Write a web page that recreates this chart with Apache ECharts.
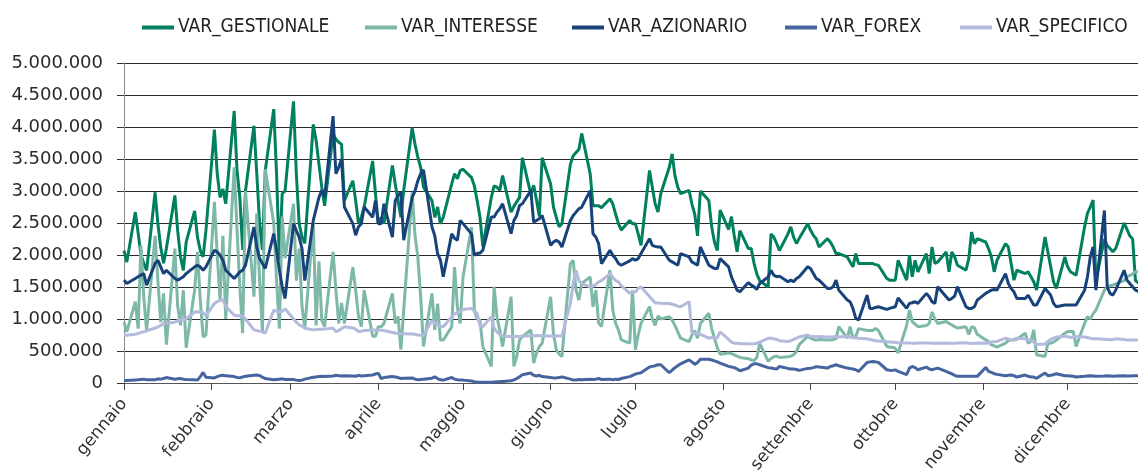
<!DOCTYPE html>
<html>
<head>
<meta charset="utf-8">
<title>VaR</title>
<script src="https://cdn.jsdelivr.net/npm/echarts@6.0.0/dist/echarts.min.js"></script>
<style>
  html, body { margin: 0; padding: 0; background: #fff; }
  #chart { width: 1138px; height: 472px; }
</style>
</head>
<body>
<div id="chart"></div>
<script>
// month names shown on the time axis
const months = ["gennaio", "febbraio", "marzo", "aprile", "maggio", "giugno",
   "luglio", "agosto", "settembre", "ottobre", "novembre", "dicembre"];
const monthLengths = [31, 28, 31, 30, 31, 30, 31, 31, 30, 31, 30, 31];
const seriesNames = ["VAR_GESTIONALE", "VAR_INTERESSE", "VAR_AZIONARIO", "VAR_FOREX", "VAR_SPECIFICO"];
const yTicks = [0, 500000, 1000000, 1500000, 2000000, 2500000, 3000000, 3500000, 4000000, 4500000, 5000000];

// values in thousands, one per trading day, one line per month
const gestionale = [
   2070, 1890, 2670, 2350, 2000, 1870, 1760, 2980, 2490, 2120, 1870, 2100, 2930, 2380, 1970, 1760, 2200, 2690, 2280, 2070, 1970, 2380,
   3960, 3270, 2900, 3030, 2800, 4250, 3320, 2900, 2080, 3000, 4020, 3270, 2490, 2080, 3320, 4280, 3270, 1920, 2960, 3000,
   4400, 3270, 2490, 2280, 2180, 4040, 3790, 3420, 3060, 2770, 3890, 3810, 3760, 3730, 2850, 3160, 2850, 2490, 2590, 2750, 3470, 2960,
   2490, 2590, 2490, 3400, 3110, 2850, 2590, 3010, 3990, 3730, 3530, 3370, 3060, 2850, 2590, 2750, 2490, 2590, 3110, 3270, 3190, 3320,
   3340, 3210, 3080, 2850, 2590, 2130, 2900, 3080, 3060, 3010, 3240, 2670, 2760, 2830, 2900, 3520, 2950, 3090, 2860, 2600, 3520,
   3110, 2750, 2590, 2440, 2490, 3420, 3550, 3600, 3650, 3900, 3270, 2770, 2770, 2770, 2740, 2880, 2800, 2640, 2490, 2390, 2540, 2490,
   2490, 2330, 2150, 3320, 3060, 2800, 2670, 2960, 3370, 3580, 3240, 3060, 2960, 3010, 2800, 2640, 2300, 3000, 2850, 2440, 2200, 2070, 2700,
   2400, 2600, 2300, 2050, 2380, 2100, 2100, 1870, 1700, 1600, 1500, 2330, 2280, 2180, 2070, 2330, 2440, 2280, 2180, 2260, 2490,
   2385, 2307, 2255, 2125, 2255, 2203, 2125, 2022, 2022, 1970, 1892, 1815, 2022, 1866, 1866, 1866, 1866, 1850, 1840, 1633, 1607, 1607,
   1607, 1918, 1607, 1995, 1659, 1918, 1737, 2022, 1710, 2125, 1866, 1892, 2048, 1737, 2048, 1970, 1840, 1762, 1944, 2359, 2177, 2255,
   2203, 2100, 1970, 1737, 1918, 2177, 2125, 1866, 1607, 1762, 1710, 1737, 1659, 1581, 1451, 2280, 2048, 1815, 1581, 1477, 1970,
   1815, 1737, 1710, 1685, 2440, 2650, 2750, 2860, 1600, 2250, 2150, 2100, 2050, 2100, 2500, 2400, 2300, 2250, 1600, 1500
];
const interesse = [
   950, 800, 1270, 850, 2150, 1350, 820, 2300, 1600, 950, 1400, 600, 2100, 1200, 900, 1450, 550, 1450, 2050, 1300, 720, 750,
   2830, 2000, 1300, 2300, 1000, 3370, 2400, 1500, 780, 3000, 1350, 2650, 1600, 800, 3340, 2500, 1600, 850, 2600, 1950,
   2800, 1600, 2100, 1200, 850, 2500, 900, 1900, 980, 880, 2050, 1450, 930, 1250, 930, 1810, 1450, 1040, 880, 1450, 730, 730,
   880, 880, 930, 1400, 930, 1040, 520, 1140, 2980, 2300, 1970, 1350, 570, 1400, 830, 1240, 670, 670, 880, 1810, 1190, 930,
   1658, 2435, 1140, 1000, 984, 570, 259, 1502, 1036, 829, 570, 1347, 259, 414, 673, 725, 829, 311, 466, 570, 622,
   1347, 777, 518, 450, 414, 1865, 1917, 1450, 1295, 1554, 1658, 1191, 1450, 932, 881, 1761, 1140, 932, 829, 673, 622, 1450,
   520, 750, 932, 1193, 1000, 900, 1050, 1000, 1036, 984, 900, 800, 700, 646, 750, 820, 700, 930, 1089, 850, 700, 550, 450,
   470, 460, 440, 420, 400, 380, 360, 350, 400, 620, 340, 380, 410, 420, 400, 410, 420, 440, 490, 600, 730,
   700, 680, 670, 680, 670, 670, 680, 690, 880, 700, 880, 700, 730, 850, 820, 820, 820, 850, 820, 570, 560, 560,
   540, 470, 900, 1140, 960, 920, 880, 900, 930, 1110, 1000, 930, 960, 930, 910, 880, 860, 880, 760, 880, 860, 760,
   673, 648, 596, 580, 560, 622, 663, 673, 673, 684, 777, 622, 648, 829, 440, 414, 622, 622, 640, 670, 777,
   803, 803, 803, 570, 932, 1036, 1000, 1080, 1140, 1450, 1500, 1520, 1530, 1550, 1600, 1660, 1680, 1700, 1740, 1740
];
const azionario = [
   1607, 1555, 1633, 1659, 1685, 1710, 1529, 1866, 1918, 1815, 1710, 1762, 1633, 1607, 1633, 1659, 1710, 1815, 1840, 1815, 1762, 1815,
   2074, 2048, 1995, 1918, 1762, 1633, 1685, 1737, 1762, 1840, 2436, 2125, 1944, 1866, 1789, 2333, 2074, 1762, 1503, 1320,
   2490, 2380, 2280, 2100, 1600, 2540, 2720, 2900, 3010, 2900, 4170, 3270, 3370, 3500, 2750, 2490, 2310, 2440, 2490, 2750, 2590, 2850,
   2490, 2490, 2800, 2280, 2850, 2930, 2980, 2230, 2900, 3000, 3160, 3270, 3330, 2440, 2300, 2020, 1920, 1660, 2330, 2260, 2230, 2540,
   2490, 2330, 1995, 2022, 2030, 2074, 2592, 2592, 2670, 2721, 2800, 2333, 2540, 2618, 2773, 2800, 3006, 2514, 2540, 2566, 2618,
   2150, 2203, 2229, 2203, 2125, 2540, 2618, 2670, 2721, 2747, 3006, 2333, 2281, 2177, 1866, 2074, 1995, 1944, 1866, 1840, 1907, 1944,
   1918, 1944, 2022, 2255, 2150, 2135, 2125, 2125, 1918, 1892, 1866, 1840, 2022, 1970, 1892, 1866, 1840, 2125, 1840, 1815, 1789, 1789, 1944,
   1815, 1659, 1555, 1451, 1425, 1570, 1529, 1503, 1462, 1555, 1659, 1762, 1685, 1659, 1670, 1581, 1607, 1581, 1633, 1659, 1815,
   1789, 1710, 1633, 1607, 1477, 1477, 1503, 1607, 1451, 1296, 1270, 1166, 1011, 985, 1373, 1166, 1166, 1180, 1192, 1150, 1166, 1180,
   1192, 1328, 1166, 1244, 1254, 1270, 1244, 1400, 1347, 1270, 1244, 1503, 1347, 1296, 1321, 1357, 1503, 1192, 1166, 1166, 1192, 1296,
   1400, 1425, 1451, 1462, 1451, 1710, 1555, 1477, 1425, 1321, 1321, 1373, 1296, 1218, 1218, 1477, 1425, 1373, 1244, 1192, 1218,
   1218, 1218, 1218, 1218, 1451, 1659, 1970, 2125, 1451, 2695, 1503, 1400, 1373, 1451, 1762, 1607, 1555, 1503, 1451, 1400
];
const forex = [
   40, 40, 45, 50, 55, 60, 50, 50, 65, 60, 70, 85, 60, 65, 70, 60, 55, 50, 45, 100, 165, 90,
   80, 100, 115, 120, 115, 100, 85, 80, 95, 105, 120, 125, 115, 90, 70, 50, 55, 60, 65, 55,
   55, 45, 40, 45, 60, 90, 95, 100, 105, 100, 110, 120, 115, 110, 115, 110, 105, 120, 110, 115, 125, 140,
   155, 70, 85, 100, 95, 85, 70, 75, 80, 60, 50, 55, 60, 75, 95, 70, 50, 45, 85, 60, 50, 45,
   45, 30, 20, 15, 12, 10, 12, 15, 20, 22, 25, 35, 50, 70, 95, 130, 155, 120, 110, 120, 100,
   85, 80, 80, 85, 95, 60, 45, 45, 55, 50, 60, 55, 60, 70, 55, 60, 50, 60, 55, 70, 100, 120,
   140, 150, 160, 250, 260, 270, 285, 285, 160, 200, 240, 270, 300, 360, 330, 290, 320, 370, 370, 360, 345, 330, 310,
   260, 250, 240, 220, 192, 233, 280, 300, 300, 285, 240, 233, 225, 218, 259, 228, 220, 218, 210, 197, 228,
   230, 240, 255, 250, 233, 259, 270, 285, 270, 233, 225, 218, 207, 181, 321, 330, 337, 330, 321, 207, 200, 197,
   205, 181, 130, 233, 259, 240, 207, 249, 218, 207, 220, 233, 181, 160, 145, 120, 104, 104, 104, 104, 104, 104,
   243, 181, 165, 145, 135, 114, 120, 124, 114, 93, 124, 104, 95, 93, 73, 155, 114, 120, 130, 145, 114,
   114, 110, 105, 93, 104, 110, 114, 110, 104, 110, 114, 110, 104, 110, 114, 110, 110, 114, 114, 114
];
const specifico = [
   750, 745, 760, 775, 790, 800, 815, 860, 875, 900, 930, 935, 950, 975, 985, 990, 1000, 1110, 1115, 1110, 1100, 1050,
   1245, 1270, 1290, 1300, 1200, 1060, 1050, 1055, 1040, 1000, 830, 820, 810, 800, 780, 1140, 1120, 1110, 1120, 1160,
   1000, 950, 910, 890, 855, 830, 835, 840, 840, 845, 855, 805, 820, 850, 880, 860, 840, 805, 810, 820, 830, 830,
   830, 825, 820, 790, 780, 775, 770, 770, 765, 760, 750, 745, 740, 980, 940, 900, 885, 880, 1036, 1080, 1100, 1120,
   1150, 1166, 1120, 1088, 900, 880, 1036, 855, 800, 760, 730, 725, 725, 725, 725, 730, 740, 740, 742, 740, 738,
   735, 735, 738, 736, 736, 1243, 1554, 1761, 1600, 1554, 1502, 1510, 1540, 1580, 1600, 1709, 1650, 1600, 1580, 1520, 1400, 1420,
   1420, 1480, 1502, 1350, 1300, 1250, 1250, 1245, 1243, 1230, 1220, 1200, 1190, 1270, 790, 780, 770, 760, 700, 710, 700, 705, 800,
   680, 640, 622, 620, 615, 612, 611, 615, 620, 640, 699, 700, 690, 680, 660, 648, 660, 680, 700, 720, 751,
   725, 725, 722, 725, 718, 720, 722, 725, 724, 725, 720, 712, 705, 700, 690, 680, 670, 660, 655, 645, 640, 635,
   635, 630, 625, 625, 622, 622, 625, 625, 625, 622, 620, 622, 625, 622, 620, 622, 625, 630, 622, 618, 622, 625,
   620, 630, 640, 645, 650, 700, 690, 670, 680, 700, 690, 675, 660, 640, 600, 610, 650, 680, 700, 720, 730,
   725, 710, 720, 725, 720, 710, 700, 690, 690, 685, 680, 675, 680, 690, 680, 670, 675, 670, 670, 670
];

(function(window) {
   const year = 2009;
   // day of year of every weekday up to the last plotted session
   let tradingDays = [];
   for (let d = 0; d < 362; d++) {
      let dow = new Date(year, 0, 1 + d).getDay();
      if (dow !== 0 && dow !== 6) tradingDays.push(d);
   }
   let monthStarts = [];
   let acc = 0;
   monthLengths.forEach(function(len) {
      monthStarts.push(acc);
      acc += len;
   });

   function toPairs(values) {
      let out = [];
      let n = Math.min(values.length, tradingDays.length);
      for (let i = 0; i < n; i++) out.push([tradingDays[i], values[i] * 1000]);
      return out;
   }
   function fmt(v) {
      return String(v).replace(/\B(?=(\d{3})+(?!\d))/g, ".");
   }

   let colors = ["#00805f", "#7db8a9", "#17437a", "#46649f", "#b4badc"];
   let values = [gestionale, interesse, azionario, forex, specifico];
   let legendLeft = [137, 360, 567, 780, 955];
   let fontAxis = "'DejaVu Sans', sans-serif";
   let fontLegend = "'Liberation Sans Narrow', 'DejaVu Sans Condensed', 'Roboto Condensed', 'Liberation Sans', sans-serif";

   let option = {
      animation: false,
      backgroundColor: "#fff",
      color: colors,
      legend: seriesNames.map(function(name, i) {
         return {
            data: [name],
            left: legendLeft[i],
            top: 13,
            icon: "rect",
            itemWidth: 32,
            itemHeight: 4,
            itemGap: 4,
            selectedMode: false,
            textStyle: { fontFamily: fontLegend, fontSize: 19, color: "#222", padding: [0, 0, 0, -1] }
         };
      }),
      grid: { left: 124, right: 0, top: 63, bottom: 89, containLabel: false, outerBoundsMode: "none" },
      xAxis: {
         type: "value",
         min: 0,
         max: 358.9,
         splitLine: { show: false },
         axisLine: { show: true, lineStyle: { color: "#555", width: 1 } },
         axisTick: {
            show: true,
            customValues: monthStarts,
            length: 7,
            lineStyle: { color: "#444" }
         },
         axisLabel: {
            customValues: monthStarts,
            rotate: 50,
            margin: 18,
            fontFamily: fontAxis,
            fontSize: 17,
            color: "#333",
            formatter: function(v) {
               let i = monthStarts.indexOf(Math.round(v));
               return i >= 0 ? months[i] : "";
            }
         }
      },
      yAxis: {
         type: "value",
         min: yTicks[0],
         max: yTicks[yTicks.length - 1],
         interval: yTicks[1] - yTicks[0],
         axisLine: { show: true, lineStyle: { color: "#8a8a8a", width: 1 } },
         axisTick: { show: true, length: 7, lineStyle: { color: "#333" } },
         splitLine: { show: true, lineStyle: { color: "#2a2a2a", width: 1 } },
         axisLabel: {
            margin: 21,
            fontFamily: fontAxis,
            fontSize: 18,
            color: "#2a2a2a",
            formatter: fmt
         }
      },
      series: seriesNames.map(function(name, i) {
         return {
            name: name,
            type: "line",
            data: toPairs(values[i]),
            symbol: "none",
            lineStyle: { width: 3, color: colors[i] },
            itemStyle: { color: colors[i] },
            clip: true
         };
      })
   };

   let myChart = echarts.init(document.getElementById("chart"));
   myChart.setOption(option);
})(window);
</script>
</body>
</html>
